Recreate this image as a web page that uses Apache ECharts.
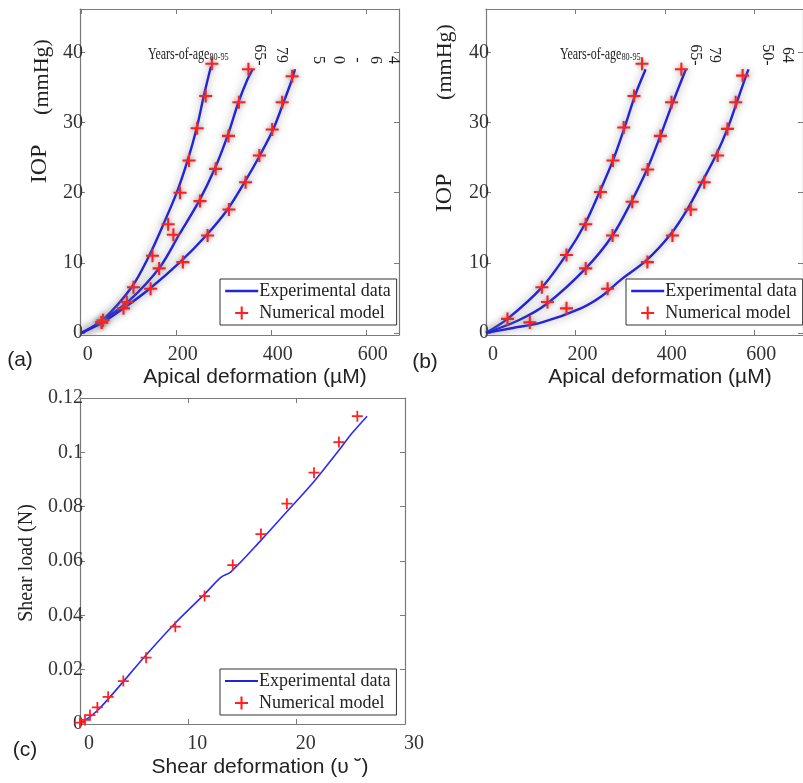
<!DOCTYPE html>
<html>
<head>
<meta charset="utf-8">
<script src="https://cdn.jsdelivr.net/npm/echarts@6/dist/echarts.min.js"></script>
<style>
  html, body { margin: 0; padding: 0; background: #fff; }
  #chart { width: 803px; height: 783px; }
</style>
</head>
<body>
<div id="chart"></div>
<script>
// panel (a): IOP vs apical deformation, one curve per age group
const aLine8095 = [[0,0],[45,1.9],[105,6.5],[142,11],[172,15.5],[200,20],[223,24.6],[242,29.2],[257,33.8],[272,38]];
const aModel8095 = [[45,1.8],[109,6.5],[149,11],[182,15.5],[207,20],[226,24.6],[243,29.2],[261,33.8],[274,38.4]];
const aLine6579 = [[0,0],[40,1.6],[100,4.6],[165,9.4],[205,14],[247,18.8],[280,23.4],[307,28.1],[330,32.9],[348,36],[360,37.6]];
const aModel6579 = [[42,1.5],[95,4.4],[163,9.2],[193,14],[249,18.8],[282,23.4],[309,28.1],[331,32.9],[351,37.6]];
const aLine5064 = [[0,0],[42,1.4],[88,3.5],[143,6.3],[207,10.1],[262,13.9],[307,17.6],[343,21.5],[375,25.3],[403,29],[425,32.9],[442,36],[449,37.6]];
const aModel5064 = [[42,1.5],[88,3.5],[145,6.3],[213,10.1],[265,13.9],[310,17.6],[345,21.5],[374,25.3],[401,29],[422,32.9],[443,36.6]];

// panel (b)
const bLine8095 = [[0,0],[48,2],[125,6.5],[179,11.1],[221,15.5],[254,20.1],[284,24.6],[310,29.3],[333,33.8],[357,37.6]];
const bModel8095 = [[48,2],[125,6.5],[180,11.1],[223,15.5],[256,20.1],[284,24.6],[308,29.3],[331,33.8],[349,38.4]];
const bLine6579 = [[0,0],[73,1.8],[137,4.2],[223,9.2],[283,13.9],[325,18.7],[360,23.3],[390,28.1],[418,32.9],[447,37.6]];
const bModel6579 = [[137.5,4.4],[223,9.2],[283,13.9],[327,18.7],[361.5,23.3],[390,28.1],[415,32.9],[437,37.6]];
const bLine5064 = [[0,0],[60,0.7],[125,1.5],[212,3.5],[260,5.3],[300,7.5],[358,10.3],[412,14],[450,17.6],[483,21.5],[514,25.3],[540,29.1],[561,32.9],[579,36.2],[587,37.6]];
const bModel5064 = [[98,1.5],[180,3.5],[272,6.3],[361,10.1],[417,13.9],[458,17.6],[488,21.5],[518,25.3],[540,29.1],[558.5,32.9],[574,36.7]];

// panel (c): shear load vs shear deformation
const cLine = [[0,0],[1.8,0.0057],[6.1,0.0254],[8.8,0.0372],[11.5,0.0478],[13,0.054],[13.9,0.0559],[16.7,0.0676],[19.1,0.0782],[21.6,0.0893],[23.9,0.1008],[25.1,0.107],[26.5,0.1133]];
const cModel = [[0,0.0005],[0.46,0.0015],[0.92,0.0033],[1.6,0.0061],[2.6,0.01],[4,0.0158],[6.1,0.0244],[8.8,0.0358],[11.5,0.0471],[14.1,0.0585],[16.7,0.0699],[19.1,0.0811],[21.6,0.0925],[23.9,0.1038],[25.6,0.1133]];

const iopTicks = [0, 10, 20, 30, 40];
const apicalTicks = [0, 200, 400, 600];
const shearLoadTicks = [0, 0.02, 0.04, 0.06, 0.08, 0.1, 0.12];
const shearDefTicks = [0, 10, 20, 30];

const SERIF = "Liberation Serif";
const SANS = "Liberation Sans";
const PLUS = "path://M4.2,0H5.8V4.2H10V5.8H5.8V10H4.2V5.8H0V4.2H4.2Z";
const FRAME = "#7a7a7a";

var myChart = echarts.init(document.getElementById("chart"));

function xAx(grid, min, max, ticks, top, pad) {
  return {
    type: "value", gridIndex: grid, min: min, max: max,
    position: top ? "top" : "bottom",
    splitLine: { show: false },
    axisLine: { show: true, onZero: false, lineStyle: { color: FRAME, width: 1.2 } },
    axisTick: { show: true, inside: true, length: 5, customValues: ticks, lineStyle: { color: FRAME } },
    axisLabel: {
      show: !top, customValues: ticks, margin: 10, padding: [0, 0, 0, pad || 0],
      fontFamily: SERIF, fontSize: 20, color: "#333",
      formatter: (v) => String(v),
    },
  };
}
function yAx(grid, min, max, ticks, right) {
  return {
    type: "value", gridIndex: grid, min: min, max: max,
    position: right ? "right" : "left",
    splitLine: { show: false },
    axisLine: { show: true, onZero: false, lineStyle: { color: FRAME, width: 1.2 } },
    axisTick: { show: true, inside: true, length: 5, customValues: ticks, lineStyle: { color: FRAME } },
    axisLabel: {
      show: !right, customValues: ticks, margin: -3,
      fontFamily: SERIF, fontSize: 20, color: "#333",
      formatter: (v) => String(v),
    },
  };
}

function lineS(xi, data, width, halo) {
  return {
    name: "Experimental data", type: "line", xAxisIndex: xi, yAxisIndex: xi,
    data: data, symbol: "none", smooth: 0.3, z: 2,
    lineStyle: halo
      ? { color: "#2323d8", width: width, shadowColor: "rgba(120,120,120,0.8)", shadowBlur: 9 }
      : { color: "#2a2aff", width: width },
  };
}
function modelS(xi, data, size, halo) {
  return {
    name: "Numerical model", type: "scatter", xAxisIndex: xi, yAxisIndex: xi,
    data: data, symbol: PLUS, symbolSize: size, z: 3,
    itemStyle: halo
      ? { color: "#ff1f1f", opacity: 1, shadowColor: "rgba(120,120,120,0.7)", shadowBlur: 4 }
      : { color: "#ff2020", opacity: 1 },
  };
}
function legendAt(left, top, lineWidth) {
  return {
    show: true, orient: "vertical", left: left, top: top,
    data: [
      { name: "Experimental data", itemStyle: { opacity: 0 }, lineStyle: { width: lineWidth, shadowBlur: 0, shadowColor: "transparent" } },
      { name: "Numerical model", itemStyle: { shadowBlur: 0, shadowColor: "transparent" } },
    ],
    backgroundColor: "#fff", borderColor: "#333", borderWidth: 1,
    padding: [3, 6, 3, 4], itemGap: 4, itemWidth: 33, itemHeight: 13,
    textStyle: { fontFamily: SERIF, fontSize: 18, color: "#222", padding: [0, 0, 0, -4] },
    selectedMode: false,
  };
}
function txt(x, y, text, font, rot, align) {
  return {
    type: "text", x: x, y: y, rotation: rot || 0, z: 10,
    style: { text: text, font: font, fill: "#222", align: align || "center", verticalAlign: "middle" },
  };
}
// condensed label with small subscript age range
function ageLabel(x, y) {
  return {
    type: "text", x: x, y: y, scaleX: 0.75, z: 10,
    style: {
      text: "{m|Years-of-age}{s|80-95}", align: "left", verticalAlign: "middle", fill: "#222",
      rich: {
        m: { fontFamily: SERIF, fontSize: 16, fill: "#222" },
        s: { fontFamily: SERIF, fontSize: 11, fill: "#222", padding: [5, 0, 0, 0] },
      },
    },
  };
}

const UP = Math.PI / 2;
const DOWN = -Math.PI / 2;

const option = {
  backgroundColor: "#fff",
  animation: false,
  grid: [
    { left: 80, top: 9, width: 319, height: 326 },
    { left: 486, top: 9, width: 330, height: 326 },
    { left: 80, top: 398, width: 325, height: 326 },
  ],
  xAxis: [
    xAx(0, -3.6, 668, apicalTicks, false, 12), xAx(0, -3.6, 668, apicalTicks, true),
    xAx(1, 0, 709, apicalTicks, false, 14), xAx(1, 0, 709, apicalTicks, true),
    xAx(2, 0, 30, shearDefTicks, false, 18), xAx(2, 0, 30, shearDefTicks, true),
  ],
  yAxis: [
    yAx(0, -0.3, 46.2, iopTicks), yAx(0, -0.3, 46.2, iopTicks, true),
    yAx(1, -0.3, 46.2, iopTicks), yAx(1, -0.3, 46.2, iopTicks, true),
    yAx(2, 0, 0.12, shearLoadTicks), yAx(2, 0, 0.12, shearLoadTicks, true),
  ],
  legend: [legendAt(220, 279, 2.4), legendAt(626, 279, 2.4), legendAt(220, 669, 2)],
  series: [
    lineS(0, aLine8095, 2.4, true), lineS(0, aLine6579, 2.4, true), lineS(0, aLine5064, 2.4, true),
    modelS(0, aModel8095, 13, true), modelS(0, aModel6579, 13, true), modelS(0, aModel5064, 13, true),
    lineS(2, bLine8095, 2.4, true), lineS(2, bLine6579, 2.4, true), lineS(2, bLine5064, 2.4, true),
    modelS(2, bModel8095, 13, true), modelS(2, bModel6579, 13, true), modelS(2, bModel5064, 13, true),
    lineS(4, cLine, 1.6, false),
    modelS(4, cModel, 11, false),
  ],
  graphic: [
    // panel (a)
    txt(42, 77, "(mmHg)", "22px " + SERIF, UP),
    txt(40, 164, "IOP", "24px " + SERIF, UP),
    txt(20, 360, "(a)", "21px " + SANS),
    txt(255, 377, "Apical deformation (µM)", "21px " + SANS),
    ageLabel(148, 55),
    txt(259, 55, "65-", "16px " + SERIF, DOWN),
    txt(281, 55, "79", "16px " + SERIF, DOWN),
    txt(318, 60, "5", "16px " + SERIF, DOWN),
    txt(338, 60, "0", "16px " + SERIF, DOWN),
    txt(357, 60, "-", "16px " + SERIF, DOWN),
    txt(375, 60, "6", "16px " + SERIF, DOWN),
    txt(393, 60, "4", "16px " + SERIF, DOWN),
    // panel (b)
    txt(445, 62, "(mmHg)", "22px " + SERIF, UP),
    txt(445, 193, "IOP", "24px " + SERIF, UP),
    txt(425, 362, "(b)", "21px " + SANS),
    txt(660, 377, "Apical deformation (µM)", "21px " + SANS),
    ageLabel(560, 55),
    txt(695, 55, "65-", "16px " + SERIF, DOWN),
    txt(714, 55, "79", "16px " + SERIF, DOWN),
    txt(767, 55, "50-", "16px " + SERIF, DOWN),
    txt(787, 55, "64", "16px " + SERIF, DOWN),
    // panel (c)
    txt(27, 563, "Shear load (N)", "20px " + SERIF, UP),
    txt(25, 750, "(c)", "21px " + SANS),
    txt(260, 767, "Shear deformation (υ ˘)", "21px " + SANS),
  ],
};

myChart.setOption(option);
</script>
</body>
</html>
